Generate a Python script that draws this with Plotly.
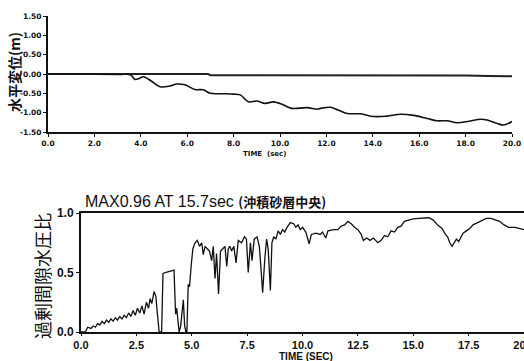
import plotly.graph_objects as go

W, H = 524, 361

# ---- Top chart: horizontal displacement (m) ----
DISP_T = [0.0, 3.1, 3.55, 3.75, 3.95, 4.11, 4.45, 4.83, 5.26, 5.55, 5.9, 6.33, 6.69, 6.99,
          7.5, 8.0, 8.29, 8.64, 9.0, 9.36, 9.72, 10.15, 10.5, 11.16, 11.6, 11.74, 12.17,
          12.5, 12.9, 13.47, 14.04, 14.6, 15.19, 15.76, 16.34, 16.77, 17.2, 17.64, 18.07,
          18.65, 18.93, 19.37, 19.65, 20.0]
DISP_V = [0.0, -0.01, -0.02, -0.14, -0.11, -0.07, -0.18, -0.33, -0.31, -0.26, -0.28, -0.40,
          -0.41, -0.50, -0.51, -0.52, -0.54, -0.72, -0.70, -0.76, -0.72, -0.80, -0.89, -0.87,
          -0.91, -0.89, -0.86, -0.93, -1.02, -1.03, -1.10, -1.09, -1.04, -1.07, -1.15, -1.21,
          -1.21, -1.26, -1.23, -1.17, -1.19, -1.28, -1.32, -1.23]
BASE_T = [0.0, 3.0, 6.9, 7.0, 12.0, 18.0, 19.0, 20.0]
BASE_V = [0.0, 0.0, 0.0, -0.03, -0.03, -0.04, -0.05, -0.06]
TOP_YTICKS = [-1.5, -1.0, -0.5, 0.0, 0.5, 1.0, 1.5]
TOP_YLABELS = ["-1.50", "-1.00", "-0.50", "0.00", "0.50", "1.00", "1.50"]
TOP_XTICKS = [0, 2, 4, 6, 8, 10, 12, 14, 16, 18, 20]
TOP_XLABELS = ["0.0", "2.0", "4.0", "6.0", "8.0", "10.0", "12.0", "14.0", "16.0", "18.0", "20.0"]

# ---- Bottom chart: excess pore water pressure ratio ----
PWP_T = [0.0, 0.2, 0.3, 0.45, 0.55, 0.65, 0.75, 0.85, 0.95, 1.05, 1.15, 1.25, 1.35, 1.45,
         1.55, 1.65, 1.75, 1.85, 1.95, 2.05, 2.15, 2.25, 2.35, 2.45, 2.55, 2.65, 2.75, 2.85,
         2.95, 3.05, 3.12, 3.2, 3.3, 3.38, 3.45, 3.53, 3.64, 3.70, 3.8, 4.0, 4.2, 4.27, 4.32,
         4.43, 4.5, 4.62, 4.68, 4.74, 4.78, 4.84, 4.9, 4.97, 5.05, 5.15, 5.25, 5.35, 5.45,
         5.52, 5.6, 5.7, 5.8, 5.9, 5.97, 6.05, 6.12, 6.21, 6.3, 6.4, 6.5, 6.58, 6.65, 6.72,
         6.8, 6.9, 7.0, 7.1, 7.25, 7.38, 7.47, 7.55, 7.65, 7.72, 7.82, 7.95, 8.05, 8.12, 8.2,
         8.3, 8.38, 8.45, 8.55, 8.62, 8.7, 8.8, 8.9, 9.0, 9.1, 9.2, 9.3, 9.45, 9.6, 9.7, 9.8,
         9.9, 10.0, 10.15, 10.3, 10.4, 10.6, 10.8, 10.9, 11.05, 11.15, 11.4, 11.6, 11.75,
         11.9, 12.05, 12.2, 12.35, 12.5, 12.65, 12.75, 12.9, 13.05, 13.2, 13.4, 13.55, 13.7,
         13.85, 14.0, 14.15, 14.3, 14.45, 14.6, 14.8, 15.0, 15.25, 15.5, 15.7, 15.9, 16.1,
         16.3, 16.45, 16.55, 16.65, 16.75, 16.85, 16.95, 17.05, 17.15, 17.25, 17.4, 17.55,
         17.7, 17.9, 18.1, 18.3, 18.5, 18.7, 18.9, 19.1, 19.3, 19.6, 20.0]
PWP_V = [0.0, 0.0, 0.04, 0.03, 0.05, 0.04, 0.07, 0.06, 0.09, 0.07, 0.10, 0.08, 0.11, 0.09,
         0.12, 0.10, 0.13, 0.11, 0.14, 0.12, 0.16, 0.13, 0.18, 0.14, 0.20, 0.16, 0.22, 0.15,
         0.25, 0.20, 0.28, 0.24, 0.34, 0.30, 0.15, 0.0, 0.0, 0.49, 0.50, 0.51, 0.52, 0.15, 0.20,
         0.0, 0.05, 0.27, 0.05, 0.0, 0.0, 0.40, 0.38, 0.55, 0.70, 0.75, 0.77, 0.72, 0.75,
         0.65, 0.72, 0.70, 0.68, 0.60, 0.72, 0.45, 0.66, 0.32, 0.68, 0.70, 0.72, 0.55, 0.70, 0.72,
         0.68, 0.72, 0.58, 0.77, 0.75, 0.80, 0.78, 0.50, 0.75, 0.60, 0.78, 0.80, 0.72, 0.55, 0.33,
         0.62, 0.78, 0.70, 0.35, 0.75, 0.80, 0.78, 0.85, 0.82, 0.86, 0.84, 0.88, 0.92, 0.91, 0.88, 0.90,
         0.86, 0.88, 0.84, 0.74, 0.82, 0.83, 0.82, 0.84, 0.79, 0.85, 0.86, 0.86, 0.89,
         0.90, 0.93, 0.91, 0.88, 0.86, 0.82, 0.77, 0.79, 0.77, 0.79, 0.75, 0.77, 0.81,
         0.80, 0.85, 0.84, 0.88, 0.89, 0.93, 0.94, 0.95, 0.955, 0.958, 0.96, 0.94, 0.90,
         0.87, 0.82, 0.80, 0.75, 0.72, 0.75, 0.78, 0.76, 0.80, 0.83, 0.85, 0.87,
         0.90, 0.92, 0.94, 0.955, 0.955, 0.94, 0.93, 0.90, 0.88, 0.88, 0.86]
BOT_YTICKS = [0.0, 0.5, 1.0]
BOT_YLABELS = ["0.0", "0.5", "1.0"]
BOT_XTICKS = [0, 2.5, 5, 7.5, 10, 12.5, 15, 17.5, 20]
BOT_XLABELS = ["0.0", "2.5", "5.0", "7.5", "10.0", "12.5", "15.0", "17.5", "20.0"]

TITLE_LATIN = "MAX0.96 AT 15.7sec"
TITLE_CJK = "(沖積砂層中央)"
TOP_YTITLE = "水平変位(m)"
BOT_YTITLE = "過剰間隙水圧比"
TOP_XTITLE = "TIME  (sec)"
BOT_XTITLE = "TIME (SEC)"

SANS = "Liberation Sans, Arial, sans-serif"
CJK = "Noto Sans CJK JP, sans-serif"

fig = go.Figure()
fig.add_trace(go.Scatter(x=BASE_T, y=BASE_V, mode="lines", line=dict(color="#222", width=2),
                         xaxis="x", yaxis="y", showlegend=False))
fig.add_trace(go.Scatter(x=DISP_T, y=DISP_V, mode="lines", line=dict(color="#111", width=1.6),
                         line_shape="spline", xaxis="x", yaxis="y", showlegend=False))
fig.add_trace(go.Scatter(x=PWP_T, y=PWP_V, mode="lines", line=dict(color="#111", width=1.3),
                         xaxis="x2", yaxis="y2", showlegend=False))

axis_common = dict(showgrid=False, zeroline=False, showline=True, linecolor="#111",
                   ticks="outside", ticklen=3, tickcolor="#111", automargin=False,
                   ticklabeloverflow="allow")

fig.update_layout(
    width=W, height=H,
    margin=dict(l=0, r=0, t=0, b=0),
    paper_bgcolor="white", plot_bgcolor="white",
    xaxis=dict(domain=[48 / W, 512 / W], range=[0, 20], anchor="y",
               tickvals=TOP_XTICKS, ticktext=TOP_XLABELS, linewidth=2,
               tickfont=dict(family="DejaVu Sans", size=7.5, color="#111", weight="bold"),
               **axis_common),
    yaxis=dict(domain=[1 - 132 / H, 1 - 16 / H], range=[-1.5, 1.5], anchor="x",
               tickvals=TOP_YTICKS, ticktext=TOP_YLABELS, linewidth=2,
               tickfont=dict(family="DejaVu Sans", size=7.5, color="#111", weight="bold"),
               **axis_common),
    xaxis2=dict(domain=[81 / W, 1.0], range=[0, 20], anchor="y2", mirror=True,
                tickvals=BOT_XTICKS, ticktext=BOT_XLABELS, linewidth=2, ticklen=2,
                tickfont=dict(family=SANS, size=11, color="#111", weight="bold"),
                **{k: v for k, v in axis_common.items() if k != "ticklen"}),
    yaxis2=dict(domain=[1 - 332 / H, 1 - 213 / H], range=[0, 1], anchor="x2",
                tickvals=BOT_YTICKS, ticktext=BOT_YLABELS, linewidth=2,
                tickfont=dict(family=SANS, size=12, color="#111", weight="bold"),
                **axis_common),
    annotations=[
        dict(text=TOP_YTITLE, x=14 / W, y=1 - 72 / H, xref="paper", yref="paper",
             textangle=-90, showarrow=False, xanchor="center", yanchor="middle",
             font=dict(family=CJK, size=14, color="#111", weight="bold")),
        dict(text=TOP_XTITLE, x=264 / W, y=1 - 154 / H, xref="paper", yref="paper",
             showarrow=False, xanchor="center", yanchor="middle",
             font=dict(family="DejaVu Sans", size=7, color="#111", weight="bold")),
        dict(text=BOT_YTITLE, x=42 / W, y=1 - 276 / H, xref="paper", yref="paper",
             textangle=-90, showarrow=False, xanchor="center", yanchor="middle",
             font=dict(family=CJK, size=18, color="#111")),
        dict(text=TITLE_LATIN + " <span style='font-family:Noto Sans CJK JP;font-size:13px;font-weight:bold'>"
             + TITLE_CJK + "</span>",
             x=83 / W, y=1 - 201 / H, xref="paper", yref="paper",
             showarrow=False, xanchor="left", yanchor="middle",
             font=dict(family=SANS, size=16, color="#111")),
        dict(text=BOT_XTITLE, x=306 / W, y=1 - 356 / H, xref="paper", yref="paper",
             showarrow=False, xanchor="center", yanchor="middle",
             font=dict(family=SANS, size=10, color="#111", weight="bold")),
    ],
)

fig.write_html("out.html", config={"displayModeBar": False},
               post_script="document.body.style.margin='0px';document.body.style.overflow='hidden';")
